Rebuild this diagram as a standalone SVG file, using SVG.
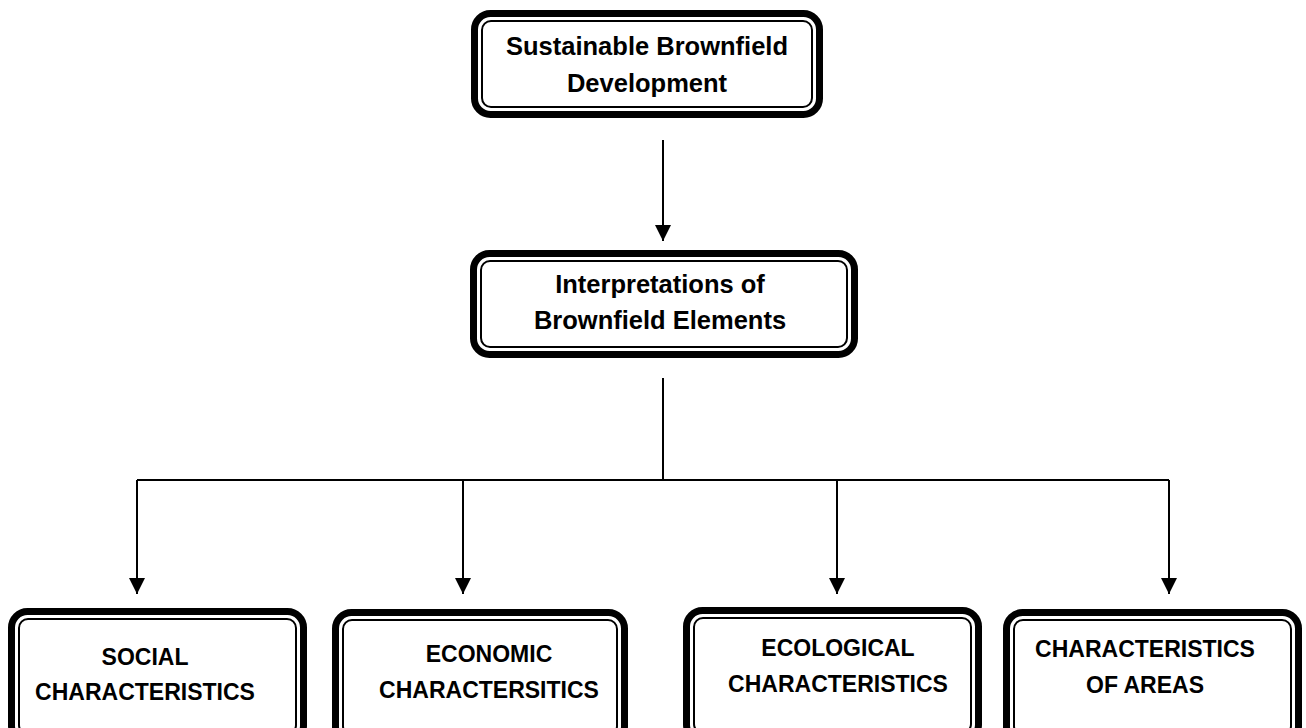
<svg xmlns="http://www.w3.org/2000/svg" width="1306" height="728" viewBox="0 0 1306 728">
  <defs>
    <marker id="arrow" viewBox="0 0 16 16" refX="16" refY="8" markerWidth="16" markerHeight="16" markerUnits="userSpaceOnUse" orient="auto">
      <path d="M0,0 L16,8 L0,16 z" fill="#000"/>
    </marker>
  </defs>
  <style>
    .outer { fill: #fff; stroke: #000; stroke-width: 7; }
    .inner { fill: none; stroke: #000; stroke-width: 2; }
    .lbl { font-family: "Liberation Sans", Arial, sans-serif; font-weight: bold; fill: #000; text-anchor: middle; }
    .top { font-size: 25.5px; }
    .bot { font-size: 23px; }
    .conn { fill: none; stroke: #000; stroke-width: 2; }
  </style>
  <rect width="1306" height="728" fill="#fff"/>

  <!-- connectors -->
  <g id="connectors">
    <line class="conn" x1="663" y1="140" x2="663" y2="241" marker-end="url(#arrow)"/>
    <polyline class="conn" points="663,378 663,480"/>
    <polyline class="conn" points="137,480 1169,480"/>
    <line class="conn" x1="137" y1="480" x2="137" y2="594" marker-end="url(#arrow)"/>
    <line class="conn" x1="463" y1="480" x2="463" y2="594" marker-end="url(#arrow)"/>
    <line class="conn" x1="837" y1="480" x2="837" y2="594" marker-end="url(#arrow)"/>
    <line class="conn" x1="1169" y1="480" x2="1169" y2="594" marker-end="url(#arrow)"/>
  </g>

  <g id="sustainable-development">
    <rect class="outer" x="474.5" y="13.5" width="345" height="101" rx="16"/>
    <rect class="inner" x="482" y="21" width="330" height="86" rx="9"/>
    <text class="lbl top" x="647" y="55">Sustainable Brownfield</text>
    <text class="lbl top" x="647" y="92">Development</text>
  </g>

  <g id="interpretations">
    <rect class="outer" x="473.5" y="253.5" width="381" height="101" rx="16"/>
    <rect class="inner" x="481" y="261" width="366" height="86" rx="9"/>
    <text class="lbl top" x="660" y="293">Interpretations of</text>
    <text class="lbl top" x="660" y="329">Brownfield Elements</text>
  </g>

  <g id="social">
    <rect class="outer" x="11.5" y="611.5" width="292" height="130" rx="16"/>
    <rect class="inner" x="19" y="619" width="277" height="115" rx="9"/>
    <text class="lbl bot" x="145" y="665">SOCIAL</text>
    <text class="lbl bot" x="145" y="700">CHARACTERISTICS</text>
  </g>

  <g id="economic">
    <rect class="outer" x="335.5" y="612.5" width="289" height="130" rx="16"/>
    <rect class="inner" x="343" y="620" width="274" height="115" rx="9"/>
    <text class="lbl bot" x="489" y="662">ECONOMIC</text>
    <text class="lbl bot" x="489" y="698">CHARACTERSITICS</text>
  </g>

  <g id="ecological">
    <rect class="outer" x="686.5" y="610.5" width="292" height="130" rx="16"/>
    <rect class="inner" x="694" y="618" width="277" height="115" rx="9"/>
    <text class="lbl bot" x="838" y="656">ECOLOGICAL</text>
    <text class="lbl bot" x="838" y="692">CHARACTERISTICS</text>
  </g>

  <g id="areas">
    <rect class="outer" x="1006.5" y="612.5" width="292" height="130" rx="16"/>
    <rect class="inner" x="1014" y="620" width="277" height="115" rx="9"/>
    <text class="lbl bot" x="1145" y="657">CHARACTERISTICS</text>
    <text class="lbl bot" x="1145" y="693">OF AREAS</text>
  </g>
</svg>
